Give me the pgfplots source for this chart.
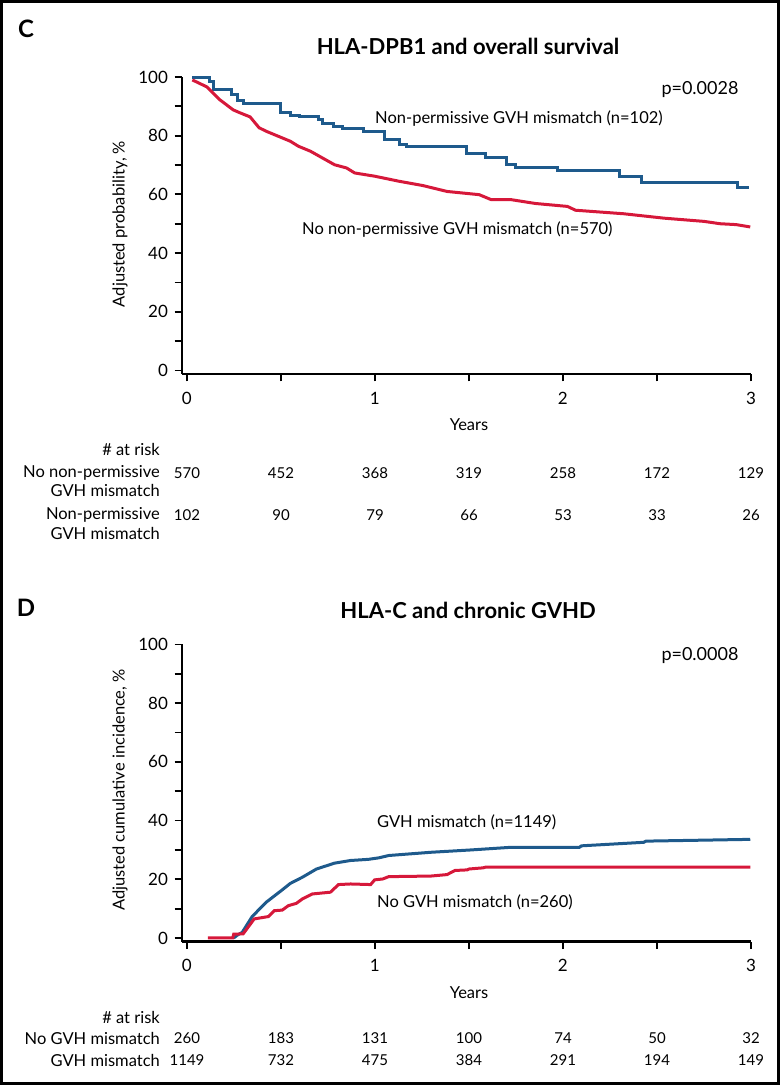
\documentclass[border=0pt]{standalone}
\usepackage{fontspec}
\setmainfont{Lato}
\usepackage{pgfplots}
\pgfplotsset{compat=1.18}
\definecolor{kmblue}{RGB}{30,90,140}
\definecolor{kmred}{RGB}{214,24,58}
\pgfplotsset{kmaxis/.style={
  scale only axis, width=569pt, height=297pt,
  xmin=-0.025, xmax=3, ymin=-1.2, ymax=100,
  axis lines*=left,
  axis line style={line width=2.8pt},
  xtick={0,1,2,3}, minor xtick={0.5,1.5,2.5},
  ytick={0,20,...,100}, minor ytick={10,30,...,90},
  tick align=outside, major tick length=7.5pt, minor tick length=7.5pt,
  every tick/.style={line width=1.8pt, black},
  every minor tick/.style={line width=1.8pt, black},
  tick label style={font=\fontsize{17}{20}\selectfont},
  xticklabel style={yshift=-7pt},
  yticklabel style={xshift=-3pt},
  /pgf/number format/assume math mode=true,
  clip=false,
}}
\newcommand{\lab}{\fontsize{16.5}{19}\selectfont}
\newcommand{\num}{\fontsize{15}{18}\selectfont}
\newcommand{\pv}{\fontsize{18}{21}\selectfont}
\begin{document}
\begin{tikzpicture}
\useasboundingbox (0,0) rectangle (780pt,1085pt);
\draw[line width=3pt] (1.5pt,1.5pt) rectangle (778.5pt,1083.5pt);

% ---------------- Panel C ----------------
\node[font=\fontsize{24}{27}\selectfont\bfseries] at (26pt,1056pt) {C};
\node[font=\fontsize{22}{26}\selectfont\bfseries] at (468pt,1039pt) {HLA-DPB1 and overall survival};
\node[font=\lab, rotate=90] at (120pt,861pt) {Adjusted probability, \%};
\begin{axis}[kmaxis, at={(182pt,711pt)}, anchor=south west]
\addplot[const plot, kmblue, line width=3pt] coordinates {
(0.03,99.8) (0.12,98.5) (0.14,95.8) (0.24,94.0) (0.27,92.0) (0.30,91.0)
(0.50,88.0) (0.55,87.0) (0.60,86.5) (0.70,85.5) (0.72,84.2) (0.78,83.2)
(0.83,82.6) (0.94,81.5) (1.05,78.7) (1.13,77.0) (1.17,76.4) (1.49,74.0)
(1.59,72.7) (1.70,70.2) (1.75,69.3) (1.97,68.2) (2.30,66.2) (2.42,63.9)
(2.93,62.2) (2.99,62.2)};
\addplot[kmred, line width=3pt] coordinates {
(0.03,99) (0.108,96.6) (0.177,92.2) (0.247,88.8) (0.283,87.8) (0.337,86.4)
(0.385,82.7) (0.423,81.5) (0.487,79.8) (0.551,78.1) (0.594,76.4) (0.658,74.7)
(0.722,72.4) (0.786,70.1) (0.850,69) (0.893,67.3) (0.999,66.2) (1.127,64.5)
(1.256,63) (1.384,61) (1.555,59.9) (1.619,58.2) (1.725,58.2) (1.854,56.9)
(2.024,55.9) (2.067,54.6) (2.323,53.4) (2.451,52.5) (2.537,51.9) (2.750,50.8)
(2.836,50) (2.921,49.7) (2.996,48.9)};
\end{axis}
\node[font=\pv] at (700pt,995pt) {p=0.0028};
\node[font=\lab, anchor=west, inner sep=0pt] at (375pt,966pt) {Non-permissive GVH mismatch (n=102)};
\node[font=\lab, anchor=west, inner sep=0pt] at (302pt,855pt) {No non-permissive GVH mismatch (n=570)};
\node[font=\lab] at (469pt,660pt) {Years};
\node[font=\lab, anchor=east, inner sep=0pt] at (160pt,636pt) {\# at risk};
\node[font=\lab, anchor=east, inner sep=0pt] at (160pt,612pt) {No non-permissive};
\node[font=\lab, anchor=east, inner sep=0pt] at (160pt,595pt) {GVH mismatch};
\node[font=\lab, anchor=east, inner sep=0pt] at (160pt,570pt) {Non-permissive};
\node[font=\lab, anchor=east, inner sep=0pt] at (160pt,552pt) {GVH mismatch};
\foreach \v [count=\i from 0] in {570,452,368,319,258,172,129}
  \node[font=\num] at ({187pt+94pt*\i},612pt) {\v};
\foreach \v [count=\i from 0] in {102,90,79,66,53,33,26}
  \node[font=\num] at ({187pt+94pt*\i},570pt) {\v};

% ---------------- Panel D ----------------
\node[font=\fontsize{24}{27}\selectfont\bfseries] at (26pt,477pt) {D};
\node[font=\fontsize{22}{26}\selectfont\bfseries] at (468pt,475pt) {HLA-C and chronic GVHD};
\node[font=\lab, rotate=90] at (120pt,295pt) {Adjusted cumulative incidence, \%};
\begin{axis}[kmaxis, at={(182pt,143.5pt)}, anchor=south west]
\addplot[kmblue, line width=3pt] coordinates {
(0.25,0) (0.27,1.0) (0.295,1.9) (0.348,7.3) (0.423,12.2) (0.508,16.4)
(0.551,18.6) (0.615,20.7) (0.690,23.5) (0.786,25.5) (0.871,26.4) (0.967,26.8)
(1.021,27.3) (1.074,28.1) (1.298,29.2) (1.512,30.0) (1.725,30.9) (2.088,30.9)
(2.099,31.4) (2.430,32.6) (2.441,33.0) (2.996,33.6)};
\addplot[kmred, line width=3pt] coordinates {
(0.113,0) (0.245,0) (0.25,1.3) (0.30,1.4) (0.359,6.5) (0.434,7.3) (0.466,9.3)
(0.508,9.5) (0.540,11) (0.583,11.8) (0.615,13.3) (0.668,15) (0.764,15.6)
(0.807,18.2) (0.871,18.4) (0.978,18.2) (0.999,19.8) (1.042,20.1) (1.074,20.9)
(1.298,21.1) (1.384,21.6) (1.426,23.0) (1.491,23.2) (1.501,23.5) (1.576,23.9)
(1.587,24.1) (2.996,24.1)};
\end{axis}
\node[font=\pv] at (700pt,429pt) {p=0.0008};
\node[font=\lab, anchor=west, inner sep=0pt] at (377pt,263pt) {GVH mismatch (n=1149)};
\node[font=\lab, anchor=west, inner sep=0pt] at (377pt,183pt) {No GVH mismatch (n=260)};
\node[font=\lab] at (469pt,92pt) {Years};
\node[font=\lab, anchor=east, inner sep=0pt] at (160pt,68pt) {\# at risk};
\node[font=\lab, anchor=east, inner sep=0pt] at (160pt,47pt) {No GVH mismatch};
\node[font=\lab, anchor=east, inner sep=0pt] at (160pt,25pt) {GVH mismatch};
\foreach \v [count=\i from 0] in {260,183,131,100,74,50,32}
  \node[font=\num] at ({187pt+94pt*\i},47pt) {\v};
\foreach \v [count=\i from 0] in {1149,732,475,384,291,194,149}
  \node[font=\num] at ({187pt+94pt*\i},25pt) {\v};
\end{tikzpicture}
\end{document}
